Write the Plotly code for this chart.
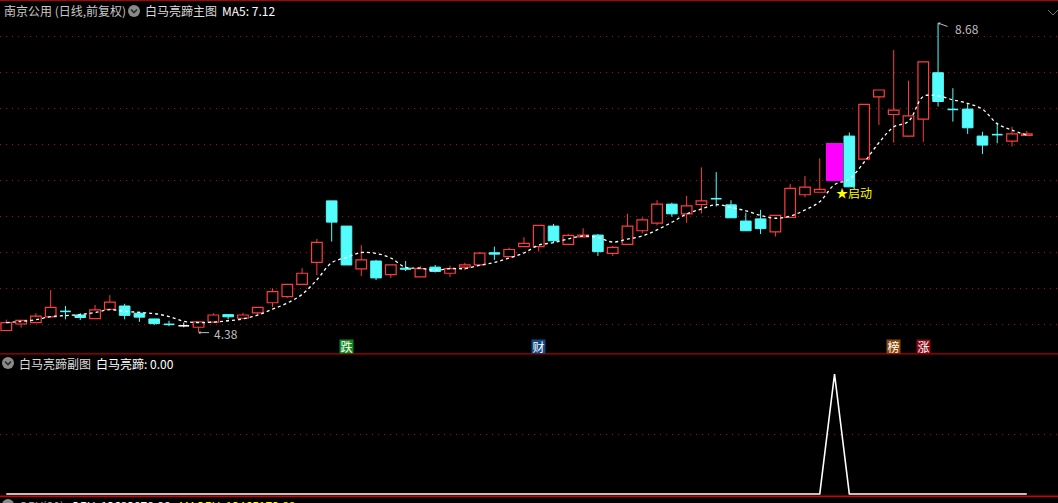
import plotly.graph_objects as go

# ---------------- data ----------------
days = list(range(70))
open_ = [4.41, 4.50, 4.52, 4.60, 4.685, 4.625, 4.575, 4.705, 4.75, 4.65,
         4.57, 4.50, 4.475, 4.455, 4.525, 4.63, 4.58, 4.655, 4.795, 4.88,
         5.05, 5.355, 6.21, 5.86, 5.265, 5.375, 5.185, 5.275, 5.155, 5.29,
         5.205, 5.29, 5.32, 5.49, 5.435, 5.575, 5.575, 5.86, 5.605, 5.71,
         5.735, 5.48, 5.605, 5.795, 5.90, 6.165, 6.03, 6.16, 6.25, 6.155,
         5.93, 5.96, 5.78, 5.98, 6.295, 6.33, 6.48, 7.11, 6.79, 7.655,
         7.41, 7.11, 7.345, 7.99, 7.485, 7.485, 7.11, 7.14, 7.04, 7.12]
high = [4.56, 4.55, 4.65, 4.97, 4.75, 4.65, 4.765, 4.90, 4.78, 4.67,
        4.57, 4.545, 4.52, 4.53, 4.65, 4.63, 4.655, 4.735, 4.995, 5.05,
        5.275, 5.68, 6.21, 5.86, 5.595, 5.39, 5.32, 5.375, 5.305, 5.32,
        5.31, 5.35, 5.50, 5.575, 5.56, 5.705, 5.87, 5.89, 5.75, 5.83,
        5.75, 5.585, 6.03, 5.98, 6.22, 6.185, 6.28, 6.675, 6.61, 6.22,
        6.045, 6.085, 6.01, 6.445, 6.555, 6.80, 7.01, 7.16, 7.55, 7.75,
        8.305, 7.88, 8.14, 8.68, 7.775, 7.565, 7.17, 7.295, 7.24, 7.18]
low = [4.41, 4.45, 4.52, 4.60, 4.565, 4.555, 4.575, 4.705, 4.565, 4.53,
       4.485, 4.47, 4.455, 4.38, 4.52, 4.565, 4.575, 4.625, 4.735, 4.865,
       5.05, 5.18, 5.645, 5.32, 5.165, 5.11, 5.14, 5.235, 5.155, 5.215,
       5.155, 5.25, 5.32, 5.39, 5.435, 5.575, 5.505, 5.63, 5.605, 5.71,
       5.445, 5.445, 5.605, 5.76, 5.87, 5.99, 5.905, 6.035, 6.13, 5.975,
       5.795, 5.75, 5.715, 5.98, 6.26, 6.33, 6.46, 6.405, 6.79, 7.265,
       7.02, 7.10, 7.03, 7.52, 7.31, 7.14, 6.86, 7.01, 6.965, 7.12]
close = [4.52, 4.55, 4.61, 4.73, 4.675, 4.59, 4.695, 4.805, 4.62, 4.595,
         4.505, 4.495, 4.475, 4.53, 4.625, 4.60, 4.625, 4.73, 4.95, 5.05,
         5.205, 5.635, 5.915, 5.32, 5.39, 5.14, 5.32, 5.26, 5.27, 5.23,
         5.27, 5.32, 5.485, 5.47, 5.535, 5.62, 5.87, 5.655, 5.73, 5.735,
         5.505, 5.565, 5.86, 5.945, 6.165, 6.03, 6.14, 6.21, 6.24, 5.975,
         5.795, 5.825, 6.01, 6.385, 6.40, 6.37, 7.01, 6.405, 7.55, 7.75,
         7.47, 7.39, 8.14, 7.59, 7.48, 7.225, 6.985, 7.13, 7.14, 7.14]
signal = [0, 0, 0, 0, 0, 0, 0, 0, 0, 0,
          0, 0, 0, 0, 0, 0, 0, 0, 0, 0,
          0, 0, 0, 0, 0, 0, 0, 0, 0, 0,
          0, 0, 0, 0, 0, 0, 0, 0, 0, 0,
          0, 0, 0, 0, 0, 0, 0, 0, 0, 0,
          0, 0, 0, 0, 0, 0, 1, 0, 0, 0,
          0, 0, 0, 0, 0, 0, 0, 0, 0, 0]
signal_day = 56
tag_days = [23, 36, 60, 62]
tag_texts = ["跌", "财", "榜", "涨"]
tag_colors = ["#0f8a1e", "#124a86", "#8a4a0e", "#8a0a14"]
price_grid = [4.5, 5.0, 5.5, 6.0, 6.5, 7.0, 7.5, 8.0, 8.5]
obv_text = ["OBV(30)", "OBV: 13683878.88", "MAOBV: 13465173.88"]

# ---------------- style ----------------
W, H = 1058, 503
RED = "#ff3c3c"
CYAN = "#54fcfc"
BODY_W = 0.72
FONT = "Noto Sans CJK SC"


def py(y):
    return 1 - y / H


def px(x):
    return x / W


ma5 = []
for i in range(len(close)):
    win = close[max(0, i - 4): i + 1]
    ma5.append(sum(win) / len(win))

fig = go.Figure()

# wicks
wick = {"up": ([], []), "down": ([], []), "flat": ([], [])}
doji = {"down": ([], []), "flat": ([], [])}
for i, o, h, l, c in zip(days, open_, high, low, close):
    top, bot = max(o, c), min(o, c)
    if i == signal_day:
        continue
    if abs(c - o) < 0.012:
        k = "flat" if c == o else "down"
        wick[k][0].extend([i, i, None])
        wick[k][1].extend([h, l, None])
        doji[k][0].extend([i - BODY_W / 2, i + BODY_W / 2, None])
        doji[k][1].extend([c, c, None])
        continue
    k = "up" if c > o else "down"
    wick[k][0].extend([i, i, None, i, i, None])
    wick[k][1].extend([h, top, None, bot, l, None])

wcol = {"up": RED, "down": CYAN, "flat": "#ffffff"}
for k, (xs, ys) in wick.items():
    fig.add_trace(go.Scatter(x=xs, y=ys, mode="lines",
                             line=dict(color=wcol[k], width=1), hoverinfo="skip"))
for k, (xs, ys) in doji.items():
    fig.add_trace(go.Scatter(x=xs, y=ys, mode="lines",
                             line=dict(color=wcol[k], width=1.6), hoverinfo="skip"))

# bodies
up_x, up_b, up_h, dn_x, dn_b, dn_h = [], [], [], [], [], []
for i, o, c in zip(days, open_, close):
    if i == signal_day or abs(c - o) < 0.012:
        continue
    if c > o:
        up_x.append(i); up_b.append(o); up_h.append(c - o)
    else:
        dn_x.append(i); dn_b.append(c); dn_h.append(o - c)

fig.add_trace(go.Bar(x=up_x, y=up_h, base=up_b, width=BODY_W,
                     marker=dict(color="#000000", line=dict(color=RED, width=1.2))))
fig.add_trace(go.Bar(x=dn_x, y=dn_h, base=dn_b, width=BODY_W,
                     marker=dict(color=CYAN, line=dict(color=CYAN, width=1))))
fig.add_trace(go.Bar(x=[signal_day], y=[close[signal_day] - open_[signal_day]],
                     base=[open_[signal_day]], width=1.12,
                     marker=dict(color="#ff00ff", line=dict(width=0))))

# MA5 dashed
fig.add_trace(go.Scatter(x=days, y=ma5, mode="lines",
                         line=dict(color="#ffffff", width=1.3, dash="3px,3px",
                                   shape="spline", smoothing=1),
                         hoverinfo="skip"))

# sub indicator
fig.add_trace(go.Scatter(x=days, y=signal, mode="lines", yaxis="y2",
                         line=dict(color="#ffffff", width=1.6), hoverinfo="skip"))

x_lo = -6.3 / 14.79
x_hi = (W - 6.3) / 14.79
fig.update_layout(
    width=W, height=H, margin=dict(l=0, r=0, t=0, b=0),
    paper_bgcolor="#000000", plot_bgcolor="#000000",
    showlegend=False, barmode="overlay", bargap=0,
    xaxis=dict(range=[x_lo, x_hi], showgrid=False, zeroline=False,
               showticklabels=False, showline=False, ticks=""),
    yaxis=dict(range=[9 - H / 72, 9.0], tickvals=price_grid, showgrid=True,
               gridcolor="#a01010", griddash="1px,5px", gridwidth=1,
               zeroline=False, showticklabels=False, showline=False, ticks=""),
    yaxis2=dict(range=[-9 / 120, 494 / 120], overlaying="y", tickvals=[0.5],
                showgrid=True, gridcolor="#a01010", griddash="1px,5px",
                gridwidth=1, zeroline=False, showticklabels=False,
                showline=False, ticks=""),
)

shapes = []
# separators
for y, col, w in [(0.5, "#b00000", 1), (353.8, "#b40000", 1.3), (496.3, "#d00000", 1.6)]:
    shapes.append(dict(type="line", xref="paper", yref="paper", x0=0, x1=1,
                       y0=py(y), y1=py(y), line=dict(color=col, width=w)))
# round icons
for cx, cy in [(134, 11), (8, 363), (8, 505)]:
    shapes.append(dict(type="circle", xref="paper", yref="paper",
                       x0=px(cx - 6), x1=px(cx + 6), y0=py(cy + 6), y1=py(cy - 6),
                       fillcolor="#8a8a8a", line=dict(width=0)))
    shapes.append(dict(type="path", xref="paper", yref="paper",
                       path=f"M {px(cx-3)} {py(cy-1.5)} L {px(cx)} {py(cy+1.5)} L {px(cx+3)} {py(cy-1.5)}",
                       line=dict(color="#2a2a2a", width=1.6)))
# top-right small icon
shapes.append(dict(type="path", xref="paper", yref="paper",
                   path=f"M {px(1048)} {py(10)} L {px(1053)} {py(15)} L {px(1058)} {py(10)}",
                   line=dict(color="#777777", width=1)))
fig.update_layout(shapes=shapes)

ann = []


def txt(x, y, s, color, size=12, anchor="left"):
    ann.append(dict(x=px(x), y=py(y), xref="paper", yref="paper", text=s,
                    showarrow=False, xanchor=anchor, yanchor="middle",
                    font=dict(family=FONT, size=size, color=color)))


txt(2, 11, "南京公用 (日线,前复权)", "#c8c8c8")
txt(143, 11, "白马亮蹄主图", "#dcdcdc")
txt(220, 11, f"MA5: {ma5[-1]:.2f}", "#ffffff")
txt(17, 363, "白马亮蹄副图", "#dcdcdc")
txt(94, 363, f"白马亮蹄: {signal[-1]:.2f}", "#ffffff")
txt(17, 505, obv_text[0], "#a0a0a0")
txt(69, 505, obv_text[1], "#ffffff")
txt(177, 505, obv_text[2], "#ffff00")

# high / low markers
hi_i = high.index(max(high))
lo_i = low.index(min(low))
ann.append(dict(x=hi_i, y=high[hi_i], xref="x", yref="y", text="", showarrow=True,
                ax=11, ay=4, arrowhead=1, arrowsize=0.6, arrowwidth=1,
                arrowcolor="#bdbdbd"))
ann.append(dict(x=hi_i, y=high[hi_i], xref="x", yref="y", text=f"{max(high):.2f}",
                showarrow=False, xanchor="left", yanchor="middle", xshift=15, yshift=-5,
                font=dict(family=FONT, size=12, color="#bdbdbd")))
ann.append(dict(x=lo_i, y=low[lo_i], xref="x", yref="y", text="", showarrow=True,
                ax=12, ay=0, arrowhead=1, arrowsize=0.6, arrowwidth=1,
                arrowcolor="#bdbdbd"))
ann.append(dict(x=lo_i, y=low[lo_i], xref="x", yref="y", text=f"{min(low):.2f}",
                showarrow=False, xanchor="left", yanchor="middle", xshift=13, yshift=-1,
                font=dict(family=FONT, size=12, color="#bdbdbd")))

# signal star
ann.append(dict(x=signal_day, y=low[signal_day], xref="x", yref="y", text="★启动",
                showarrow=False, xanchor="left", yanchor="top", yshift=1, xshift=-1,
                font=dict(family=FONT, size=12, color="#ffff00")))

# event tags
for d, t, c in zip(tag_days, tag_texts, tag_colors):
    ann.append(dict(x=d, y=py(346.5), xref="x", yref="paper", text=t, showarrow=False,
                    xanchor="center", yanchor="middle", bgcolor=c, width=13, height=13,
                    borderpad=0, font=dict(family=FONT, size=12, color="#ffffff")))

fig.update_layout(annotations=ann)
fig.write_html("out.html",
               config={"displayModeBar": False, "staticPlot": True},
               post_script="document.body.style.margin='0px';"
                           "document.body.style.overflow='hidden';"
                           "document.body.style.background='#000';")
